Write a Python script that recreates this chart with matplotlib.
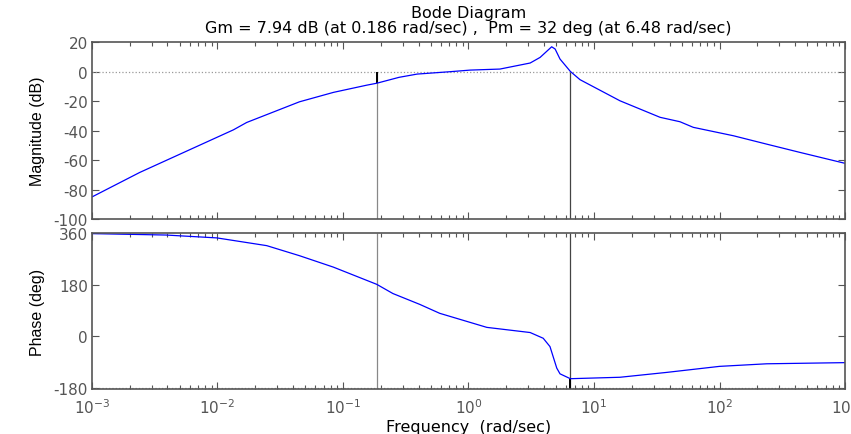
import numpy as np
import matplotlib
matplotlib.use('Agg')
import matplotlib.pyplot as plt
from matplotlib.ticker import LogLocator, NullFormatter

plt.rcParams['font.family'] = ['DejaVu Sans']
plt.rcParams['axes.unicode_minus'] = False

# Magnitude response
mag_w = [0.001, 0.0024, 0.0134, 0.0171, 0.045, 0.084, 0.155, 0.186, 0.28,
         0.39, 0.71, 1.03, 1.78, 3.1, 3.72, 4.6, 4.9, 5.36, 6.48, 7.74,
         16.1, 33.6, 48.4, 61.8, 129, 238, 438, 1000]
mag_db = [-85, -68.4, -39.5, -34.5, -20.5, -14.1, -9.2, -7.9, -3.9,
          -1.7, -0.1, 1.0, 1.7, 5.8, 9.6, 16.8, 15.3, 8.5, 0.1, -5.5,
          -19.8, -31, -34, -37.8, -43.5, -49.2, -54.8, -62.2]

# Phase response
ph_w = [0.001, 0.0039, 0.0099, 0.0247, 0.045, 0.084, 0.186, 0.25, 0.41,
        0.59, 1.4, 3.1, 3.94, 4.46, 5.05, 5.36, 6.48, 16.1, 38, 100,
        238, 1000]
ph_deg = [358, 353, 343, 316, 281, 241, 181, 149, 111, 80,
          31, 13, -7, -36, -111, -131, -148, -143, -126, -105,
          -96, -92]

gm_w, gm_db = 0.186, -7.94
pm_w, pm_deg = 6.48, -148

gray = '#555555'
narrow = ['Liberation Sans Narrow', 'Liberation Sans', 'DejaVu Sans']

fig = plt.figure(figsize=(8.51, 4.35), dpi=100)
ax1 = fig.add_axes([0.108, 0.494, 0.885, 0.407])
ax2 = fig.add_axes([0.108, 0.1034, 0.885, 0.3586])

for ax in (ax1, ax2):
    ax.set_xscale('log')
    ax.set_xlim(1e-3, 1e3)
    ax.xaxis.set_major_locator(LogLocator(base=10, numticks=10))
    ax.xaxis.set_minor_locator(LogLocator(base=10, subs=np.arange(2, 10), numticks=20))
    ax.xaxis.set_minor_formatter(NullFormatter())
    ax.tick_params(which='both', direction='in', top=True, right=True,
                   colors=gray, labelsize=11, width=0.8, pad=3)
    ax.tick_params(which='major', length=5)
    ax.tick_params(which='minor', length=3)
    for s in ax.spines.values():
        s.set_color(gray)
        s.set_linewidth(1.2)

# magnitude
ax1.set_ylim(-100, 20)
ax1.set_yticks([-100, -80, -60, -40, -20, 0, 20])
ax1.tick_params(axis='x', labelbottom=False)
ax1.axhline(0, color='#999999', ls=':', lw=0.9)
ax1.vlines([gm_w, pm_w], -100, 0, colors=['#888888', '#444444'], lw=0.9)
ax1.vlines(gm_w, gm_db, 0, colors='black', lw=1.4)
ax1.plot(mag_w, mag_db, color='#0000ff', lw=0.9)
ax1.set_ylabel('Magnitude (dB)', fontsize=11.5, family=narrow, labelpad=6)
ax1.set_title('Bode Diagram\nGm = 7.94 dB (at 0.186 rad/sec) ,  Pm = 32 deg (at 6.48 rad/sec)',
              fontsize=11.5, pad=7, linespacing=1.05)

# phase
ax2.set_ylim(-184, 360)
ax2.set_yticks([-180, 0, 180, 360])
ax2.tick_params(axis='x', pad=6)
ax2.axhline(-180, color='#999999', ls=':', lw=0.9)
ax2.vlines([gm_w, pm_w], -184, 360, colors=['#888888', '#444444'], lw=0.9)
ax2.vlines(pm_w, -184, pm_deg, colors='black', lw=1.4)
ax2.plot(ph_w, ph_deg, color='#0000ff', lw=0.9)
ax2.set_ylabel('Phase (deg)', fontsize=11.5, family=narrow, labelpad=6)
ax2.set_xlabel('Frequency  (rad/sec)', fontsize=11.5, labelpad=2)

fig.align_ylabels([ax1, ax2])
fig.savefig('out.png', dpi=100)
